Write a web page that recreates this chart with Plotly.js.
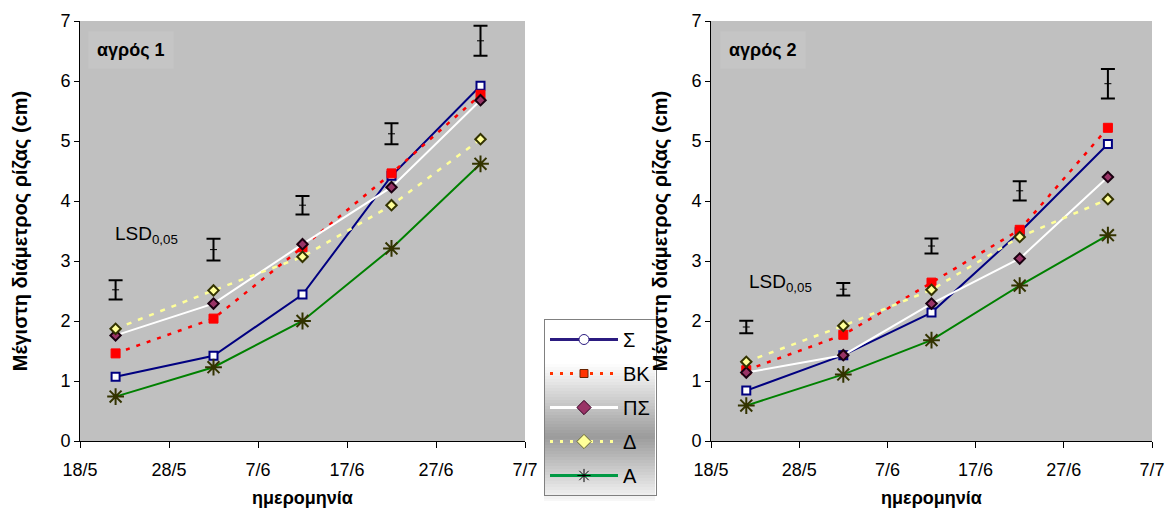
<!DOCTYPE html>
<html>
<head>
<meta charset="utf-8">
<script src="https://cdn.plot.ly/plotly-3.0.1.min.js"></script>
<style>html,body{margin:0;padding:0;background:#fff;}#chart{width:1168px;height:509px;}</style>
</head>
<body>
<div id="chart"></div>
<script>
// ---- data ----
const dates = ['2006-05-22', '2006-06-02', '2006-06-12', '2006-06-22', '2006-07-02'];
const tickDates = ['2006-05-18', '2006-05-28', '2006-06-07', '2006-06-17', '2006-06-27', '2006-07-07'];
const tickLabels = ['18/5', '28/5', '7/6', '17/6', '27/6', '7/7'];
const seriesNames = ['Σ', 'ΒΚ', 'ΠΣ', 'Δ', 'Α'];

// field 1 (αγρός 1)
const f1_S  = [1.07, 1.42, 2.44, 4.42, 5.92];
const f1_BK = [1.46, 2.04, 3.23, 4.46, 5.77];
const f1_PS = [1.76, 2.29, 3.28, 4.23, 5.68];
const f1_D  = [1.87, 2.51, 3.07, 3.93, 5.03];
const f1_A  = [0.74, 1.23, 2.00, 3.21, 4.62];
const f1_lsdMid  = [2.52, 3.19, 3.93, 5.12, 6.67];
const f1_lsdHalf = [0.16, 0.18, 0.155, 0.175, 0.25];

// field 2 (αγρός 2)
const f2_S  = [0.84, 1.43, 2.14, 3.48, 4.95];
const f2_BK = [1.18, 1.77, 2.64, 3.52, 5.22];
const f2_PS = [1.14, 1.43, 2.29, 3.04, 4.40];
const f2_D  = [1.32, 1.92, 2.52, 3.40, 4.03];
const f2_A  = [0.59, 1.11, 1.68, 2.59, 3.43];
const f2_lsdMid  = [1.90, 2.53, 3.25, 4.17, 5.955];
const f2_lsdHalf = [0.105, 0.105, 0.125, 0.16, 0.245];

// ---- styles ----
const FONT = 'Liberation Sans, Arial, sans-serif';
const plotStyles = [
  {line: {color: '#000080', width: 2}, marker: {symbol: 'square', size: 8, color: '#ffffff', line: {color: '#000080', width: 2}}},
  {line: {color: '#ff0000', width: 2.5, dash: '4px,7px'}, marker: {symbol: 'square', size: 9, color: '#ff0000', line: {color: '#ff0000', width: 1}}},
  {line: {color: '#ffffff', width: 2}, marker: {symbol: 'diamond', size: 8, color: '#993366', line: {color: '#1a0010', width: 2}}},
  {line: {color: '#ffff99', width: 2.5, dash: '5px,7px'}, marker: {symbol: 'diamond', size: 8, color: '#ffff99', line: {color: '#333300', width: 2}}},
  {line: {color: '#008000', width: 2}, marker: {symbol: 'asterisk-open', size: 14, color: '#333300', line: {color: '#333300', width: 2}}}
];
const legendStyles = [
  {line: {color: '#2b1b80', width: 3}, marker: {symbol: 'circle', size: 10, color: '#ffffff', line: {color: '#2b1b80', width: 1}}},
  {line: {color: '#ff3300', width: 3, dash: '3px,7px'}, marker: {symbol: 'square', size: 8, color: '#ff3300', line: {color: '#662200', width: 1}}},
  {line: {color: '#ffffff', width: 3}, marker: {symbol: 'diamond', size: 11, color: '#993366', line: {color: '#330022', width: 1}}},
  {line: {color: '#ffff99', width: 3, dash: '3px,7px'}, marker: {symbol: 'diamond', size: 11, color: '#ffff99', line: {color: '#666633', width: 1}}},
  {line: {color: '#009944', width: 3}, marker: {symbol: 'asterisk-open', size: 11, color: '#000000', line: {color: '#000000', width: 1}}}
];

const f1 = [f1_S, f1_BK, f1_PS, f1_D, f1_A];
const f2 = [f2_S, f2_BK, f2_PS, f2_D, f2_A];

const traces = [];
function addField(vals, mid, half, xa, ya) {
  traces.push({type: 'scatter', mode: 'markers', x: dates, y: mid, xaxis: xa, yaxis: ya,
    showlegend: false, hoverinfo: 'skip',
    marker: {symbol: 'line-ew', size: 5, color: '#000', line: {color: '#000', width: 1}},
    error_y: {type: 'data', array: half, symmetric: true, color: '#000', thickness: 2, width: 7}});
  vals.forEach((v, i) => {
    traces.push({type: 'scatter', mode: 'lines+markers', x: dates, y: v, xaxis: xa, yaxis: ya,
      name: seriesNames[i], showlegend: false, line: plotStyles[i].line, marker: plotStyles[i].marker});
  });
}
addField(f1, f1_lsdMid, f1_lsdHalf, 'x', 'y');
addField(f2, f2_lsdMid, f2_lsdHalf, 'x2', 'y2');
// legend entries
seriesNames.forEach((n, i) => {
  traces.push({type: 'scatter', mode: 'lines+markers', x: [null], y: [null], xaxis: 'x', yaxis: 'y',
    name: n, legendgroup: 'g' + i, showlegend: true, line: legendStyles[i].line, marker: legendStyles[i].marker});
});

function xAxis(domain, anchor) {
  return {domain: domain, anchor: anchor, type: 'date', range: ['2006-05-18', '2006-07-07'],
    tickvals: tickDates, ticktext: tickLabels, ticks: 'outside', ticklen: 6, tickcolor: '#000',
    showline: true, linecolor: '#000', linewidth: 1, showgrid: false, zeroline: false,
    tickfont: {family: FONT, size: 18, color: '#000'}, ticklabelstandoff: 6,
    title: {text: 'ημερομηνία', font: {family: FONT, size: 18, color: '#000', weight: 'bold'}, standoff: 12}};
}
function yAxis(anchor, standoff) {
  return {domain: [0, 1], anchor: anchor, range: [0, 7], dtick: 1, ticks: 'outside', ticklen: 5, tickcolor: '#000',
    showline: true, linecolor: '#000', linewidth: 1, showgrid: false, zeroline: false,
    tickfont: {family: FONT, size: 18, color: '#000'},
    title: {text: 'Μέγιστη διάμετρος ρίζας (cm)', font: {family: FONT, size: 20, color: '#000', weight: 'bold'}, standoff: standoff}};
}

// legend gradient background (decoration)
const shapes = [];
const lgTop = 319, lgBot = 501, lgL = 544, lgR = 655, H = 420, T = 21;
function grey(py) {
  if (py < 362) return 255;
  if (py < 435) return Math.round(255 - (py - 362) / (435 - 362) * 100);
  return Math.round(155 + (py - 435) / (lgBot - 435) * 95);
}
for (let py = lgTop; py < lgBot; py += 3) {
  const g = grey(py);
  shapes.push({type: 'rect', xref: 'paper', yref: 'paper', layer: 'above',
    x0: lgL / 1168, x1: lgR / 1168, y0: (441 - py) / H, y1: (441 - Math.min(py + 3, lgBot)) / H,
    fillcolor: `rgb(${g},${g},${g})`, line: {width: 0}});
}

const layout = {
  width: 1168, height: 509,
  margin: {l: 0, r: 0, t: T, b: 68, autoexpand: false},
  paper_bgcolor: '#ffffff', plot_bgcolor: '#c0c0c0',
  font: {family: FONT, color: '#000'},
  xaxis: xAxis([80 / 1168, 525 / 1168], 'y'),
  yaxis: yAxis('x', 27),
  xaxis2: xAxis([711 / 1168, 1152 / 1168], 'y2'),
  yaxis2: yAxis('x2', 18),
  showlegend: true,
  legend: {x: lgL / 1168, xanchor: 'left', y: (441 - lgTop) / H, yanchor: 'top',
    bgcolor: 'rgba(0,0,0,0)', bordercolor: '#808080', borderwidth: 1,
    font: {family: FONT, size: 20, color: '#000'}, itemwidth: 68, tracegroupgap: 5, traceorder: 'grouped'},
  shapes: shapes,
  annotations: [
    {xref: 'x domain', yref: 'y domain', x: 0.115, y: 0.931, xanchor: 'center', yanchor: 'middle', text: 'αγρός 1', showarrow: false,
      font: {family: FONT, size: 18, weight: 'bold'}, bgcolor: '#c5c5c5', borderpad: 8},
    {xref: 'x2 domain', yref: 'y2 domain', x: 0.118, y: 0.931, xanchor: 'center', yanchor: 'middle', text: 'αγρός 2', showarrow: false,
      font: {family: FONT, size: 18, weight: 'bold'}, bgcolor: '#c5c5c5', borderpad: 8},
    {xref: 'x domain', yref: 'y domain', x: 0.074, y: 0.49, xanchor: 'left', yanchor: 'middle', text: 'LSD<sub>0,05</sub>', showarrow: false,
      font: {family: FONT, size: 19}},
    {xref: 'x2 domain', yref: 'y2 domain', x: 0.082, y: 0.376, xanchor: 'left', yanchor: 'middle', text: 'LSD<sub>0,05</sub>', showarrow: false,
      font: {family: FONT, size: 19}}
  ]
};

Plotly.newPlot('chart', traces, layout, {displayModeBar: false, staticPlot: true});
</script>
</body>
</html>
